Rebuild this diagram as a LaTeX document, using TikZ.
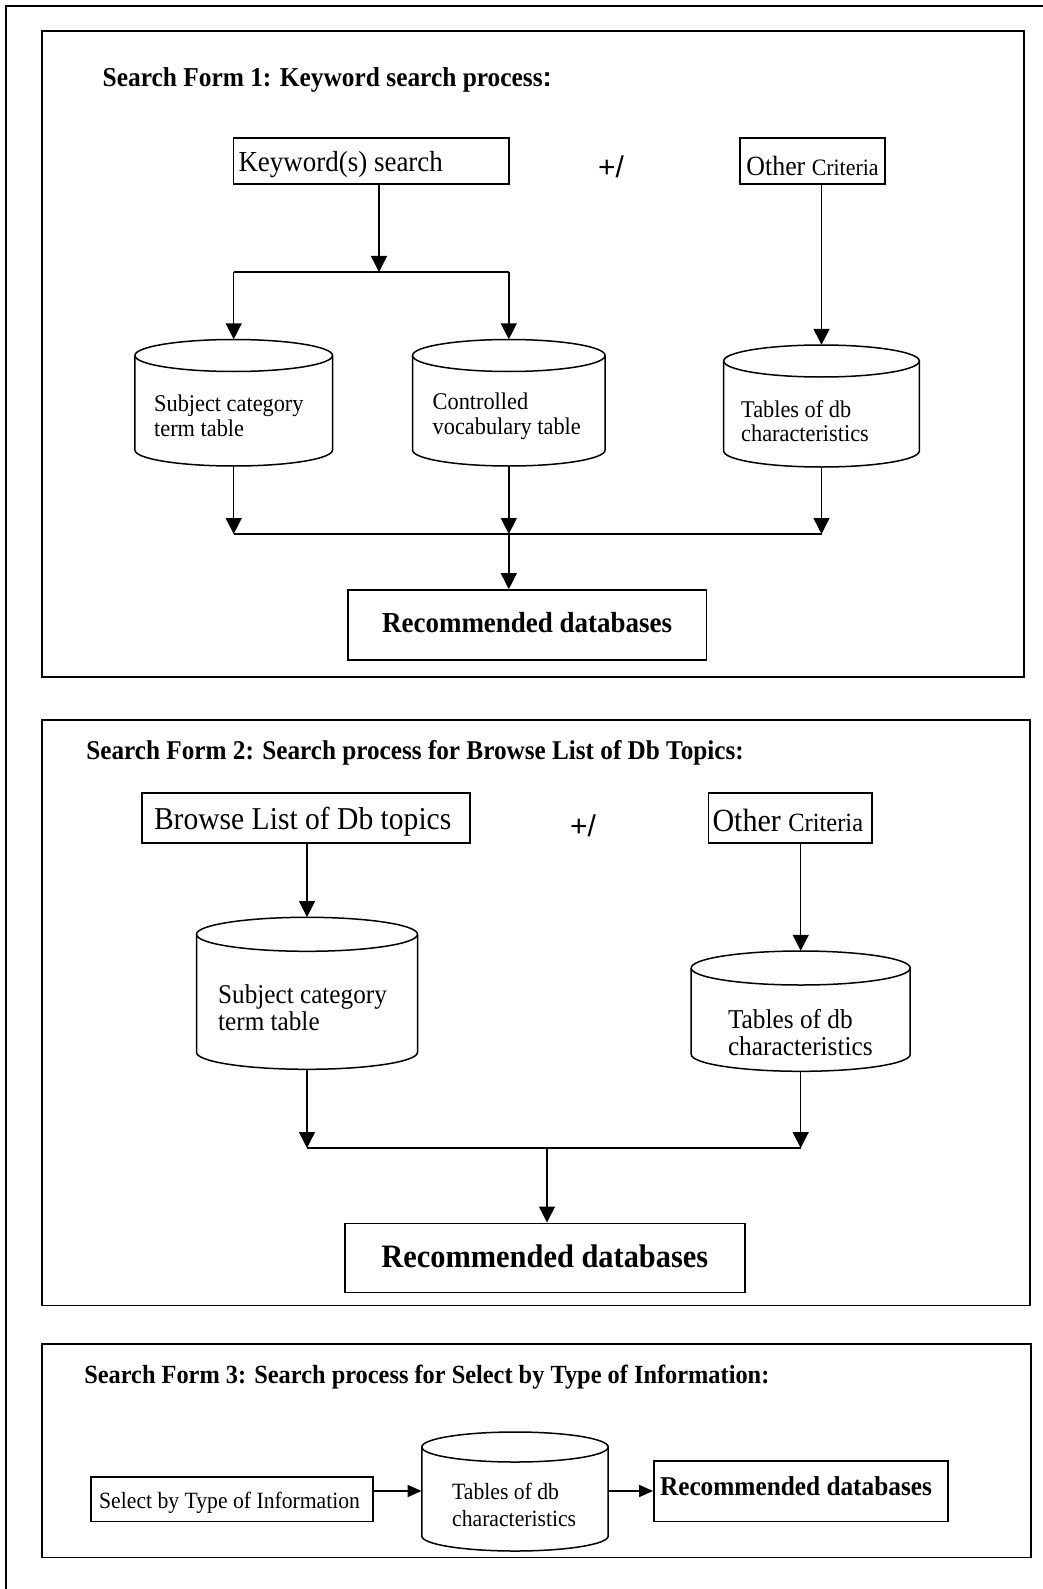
\documentclass[tikz,border=0pt]{standalone}
\usepackage{fontspec}
\setmainfont{Liberation Serif}[FakeStretch=0.93]
\newfontfamily\plusfont{Liberation Sans}
\usetikzlibrary{arrows.meta}
\newcommand\setfs[2]{\fontsize{#1pt}{#2pt}\selectfont}
\newcommand\shiftbox[2]{\raisebox{#1}[\height][\depth]{#2}}
\tikzset{
  frame/.style={draw, line width=1.9pt},
  box/.style={draw, line width=1.8pt, inner sep=0pt},
  cyl/.style={draw, line width=1.5pt},
  ln/.style={line width=1.4pt},
  arr/.style={line width=1.4pt, -{Triangle[length=16pt,width=16pt]}},
  arrs/.style={line width=1.6pt, -{Triangle[length=14pt,width=12pt]}},
  ttl/.style={anchor=base west, inner sep=0pt, font={\bfseries\setfs{27.3}{30}}},
  ctext/.style={anchor=west, align=left, inner sep=0pt},
}
\newcommand\cylshape[6]{%
  \node[inner sep=0pt, minimum width={2*#5*1pt}, minimum height={(#4-#3)*1pt}] (#1) at (#2,{-(#3+#4)/2}) {};
  \draw[cyl] (#2,{-#3-#6}) ellipse [x radius=#5, y radius=#6];
  \draw[cyl] ({#2-#5},{-#3-#6}) -- ({#2-#5},{-#4+#6}) arc[start angle=180, end angle=360, x radius=#5, y radius=#6] -- ({#2+#5},{-#3-#6});
}
\begin{document}
\begin{tikzpicture}[x=1pt,y=1pt]
\useasboundingbox (0,0) rectangle (1043,-1589);
% outer frame (only top and left visible)
\draw[line width=1.9pt] (6,-1589) -- (6,-5.7) -- (1043,-5.7);

% ================= Form 1 =================
\draw[frame] (41.6,-31) rectangle (1024,-677);
\node[ttl] (t1) at (102.5,-86.7) {Search Form 1: Keyword search process{\plusfont\bfseries :}};

\node[box, minimum width=275.5pt, minimum height=46pt, font=\setfs{29}{32}] (kw) at (371.25,-161)
  {\makebox[265.5pt][l]{\shiftbox{-4pt}{Keyword(s) search}}};
\node[inner sep=0pt, font={\plusfont\setfs{30}{32}}] (pm1) at (611,-167) {+/};
\node[box, minimum width=145pt, minimum height=46pt] (o1) at (812.5,-161)
  {\shiftbox{-5pt}{{\setfs{27.8}{30}Other }{\setfs{23.5}{26}Criteria}}};

\cylshape{c1}{233.7}{339.5}{466}{98.8}{16}
\cylshape{c2}{508.8}{339.5}{466}{96.3}{16}
\cylshape{c3}{821.5}{345}{467}{97.8}{16}
\node[ctext, font=\setfs{24}{25.4}] (c1t) at (154,-416) {Subject category\\term table};
\node[ctext, font=\setfs{24}{25.4}] (c2t) at (432.5,-416) {Controlled\\vocabulary table};
\node[ctext, font=\setfs{24}{24.5}] (c3t) at (741,-421) {Tables of db\\characteristics};

\coordinate (j1) at (379,-272);
\draw[arr] (kw.south -| j1) -- (j1);
\draw[ln] (c1.north |- j1) -- (c2.north |- j1);
\draw[arr] (c1.north |- j1) -- (c1.north);
\draw[arr] (c2.north |- j1) -- (c2.north);
\draw[arr] (o1.south -| c3.north) -- (c3.north);

\node[box, minimum width=358.8pt, minimum height=70pt, font={\bfseries\setfs{29}{32}}] (r1) at (527.1,-625)
  {\shiftbox{2pt}{Recommended databases}};
\coordinate (m1) at (508.8,-534);
\draw[arr] (c1.south) -- (c1.south |- m1);
\draw[arr] (c2.south) -- (c2.south |- m1);
\draw[arr] (c3.south) -- (c3.south |- m1);
\draw[ln] (c1.south |- m1) -- (c3.south |- m1);
\draw[arr] (m1) -- (m1 |- r1.north);

% ================= Form 2 =================
\draw[frame] (41.6,-719.7) rectangle (1030,-1305.5);
\node[ttl, font={\bfseries\setfs{27.1}{30}}] (t2) at (86.2,-759) {Search Form 2: Search process for Browse List of Db Topics:};

\node[box, minimum width=328pt, minimum height=50pt, font=\setfs{31.8}{34}] (br) at (306,-818)
  {\makebox[304pt][l]{\shiftbox{-4pt}{Browse List of Db topics}}};
\node[inner sep=0pt, font={\plusfont\setfs{30}{32}}] (pm2) at (583,-826) {+/};
\node[box, minimum width=163.5pt, minimum height=50pt] (o2) at (790.25,-818)
  {\makebox[155.5pt][l]{\shiftbox{-2pt}{{\setfs{32.3}{34}Other }{\setfs{26.3}{28}Criteria}}}};

\cylshape{c4}{307}{917.3}{1069.3}{110.5}{17}
\cylshape{c5}{800.7}{951}{1071.3}{109.5}{17}
\node[ctext, font=\setfs{27.1}{27.4}] (c4t) at (218,-1008) {Subject category\\term table};
\node[ctext, font=\setfs{27.2}{27.4}] (c5t) at (727.8,-1032.3) {Tables of db\\characteristics};

\draw[arr] (br.south -| c4.north) -- (c4.north);
\draw[arr] (o2.south -| c5.north) -- (c5.north);

\node[box, minimum width=400.4pt, minimum height=69pt, font={\bfseries\setfs{32.7}{35}}] (r2) at (544.8,-1257.9)
  {\shiftbox{2pt}{Recommended databases}};
\coordinate (m2) at (547,-1148);
\draw[arr] (c4.south) -- (c4.south |- m2);
\draw[arr] (c5.south) -- (c5.south |- m2);
\draw[ln] (c4.south |- m2) -- (c5.south |- m2);
\draw[arr] (m2) -- (m2 |- r2.north);

% ================= Form 3 =================
\draw[frame] (41.6,-1344) rectangle (1031,-1557.5);
\node[ttl, font={\bfseries\setfs{26.2}{29}}] (t3) at (84.1,-1383) {Search Form 3: Search process for Select by Type of Information:};

\node[box, minimum width=281.8pt, minimum height=44.6pt, font=\setfs{23.3}{25}] (sel) at (232.1,-1499.1)
  {\makebox[265.8pt][l]{\shiftbox{-4pt}{Select by Type of Information}}};
\cylshape{c6}{515}{1432}{1551}{93.2}{15}
\node[ctext, font=\setfs{23.3}{26.4}] (c6t) at (452,-1505) {Tables of db\\characteristics};
\node[box, minimum width=293.7pt, minimum height=60.8pt, font={\bfseries\setfs{27.2}{30}}] (r3) at (800.85,-1491)
  {\makebox[281.7pt][l]{\shiftbox{5pt}{Recommended databases}}};

\coordinate (a3) at (0,-1491);
\draw[arrs] (sel.east |- a3) -- (c6.west |- a3);
\draw[arrs] (c6.east |- a3) -- (r3.west |- a3);
\end{tikzpicture}
\end{document}
